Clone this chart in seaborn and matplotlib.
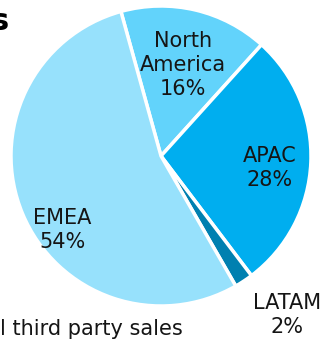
import seaborn as sns
import matplotlib.pyplot as plt

sns.set_style("white")
plt.rcParams['font.family'] = ['DejaVu Sans']

regions = ["North\nAmerica", "APAC", "LATAM", "EMEA"]
shares = [16, 28, 2, 54]
colors = ["#62d3fb", "#00aeef", "#0080b0", "#97e1fc"]

# label spots inside / outside the pie (data coords, radius = 1)
label_pos = [(0.147, 0.607), (0.727, -0.08), (0.84, -1.06), (-0.66, -0.493)]

fig = plt.figure(figsize=(3.27, 3.40), dpi=100)
ax = fig.add_axes([11 / 327, 34 / 340, 300 / 327, 300 / 340])

wedges, _ = ax.pie(shares, colors=colors, startangle=105.5, counterclock=False,
                   wedgeprops=dict(edgecolor="white", linewidth=2.5))
ax.set_xlim(-1, 1)
ax.set_ylim(-1, 1)
ax.set_aspect("equal")
ax.axis("off")

for name, val, (x, y) in zip(regions, shares, label_pos):
    ax.text(x, y, f"{name}\n{val}%", ha="center", va="center", fontsize=15,
            color="#151515", linespacing=1.25)

fig.text(-0.028, 0.937, "s", fontsize=22, fontweight="bold", ha="left", va="center", color="black")
fig.text(0.0, 0.032, "l third party sales", fontsize=15, ha="left", va="center", color="#151515")

plt.savefig("out.png", dpi=100)
plt.close()
